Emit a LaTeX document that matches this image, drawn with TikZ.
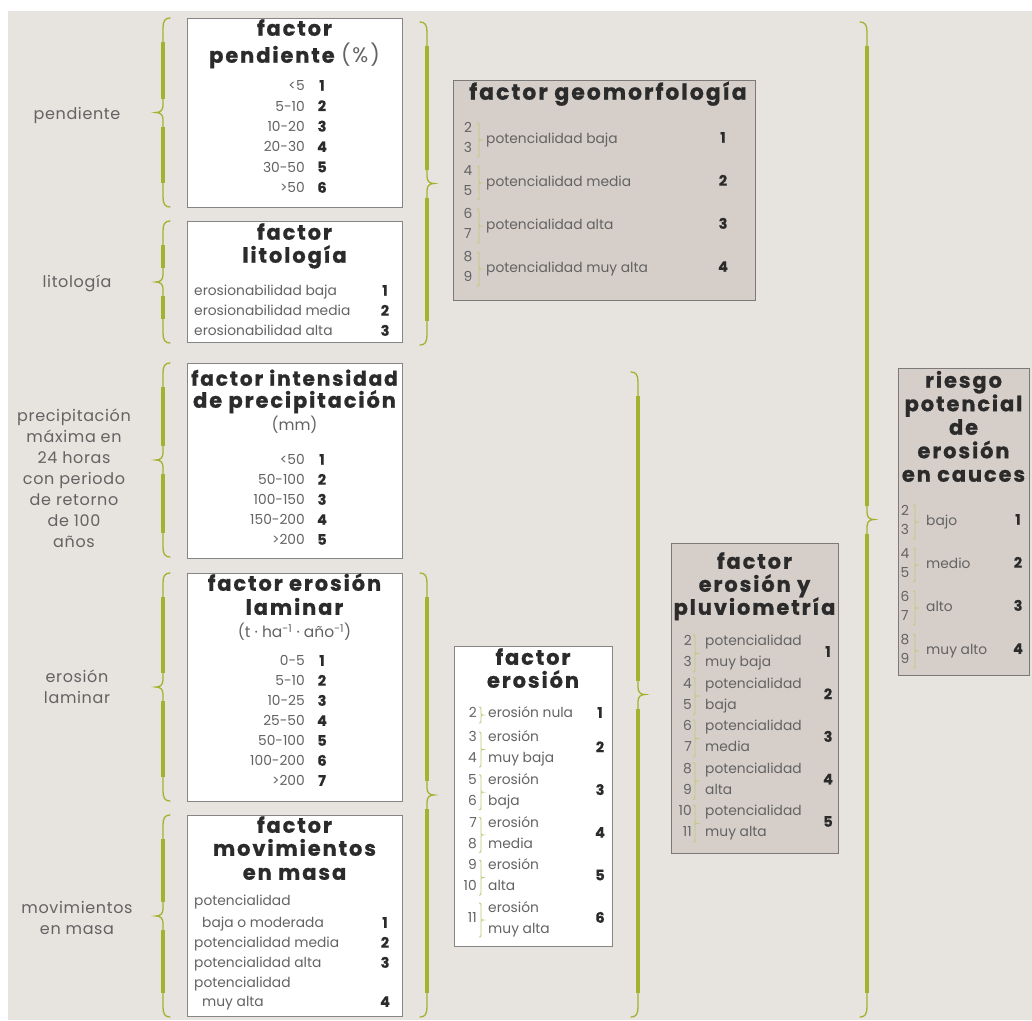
\documentclass[tikz,border=0pt]{standalone}
\usepackage{fontspec}
\setmainfont{Poppins}
\newfontfamily\ttlfont[LetterSpace=9,BoldFeatures={FakeBold=0.8}]{Poppins}
\newfontfamily\numfont[BoldFeatures={FakeBold=0.6}]{Poppins}
\newfontfamily\lblfont[LetterSpace=4]{Poppins}
\definecolor{bg}{HTML}{E7E3DF}
\definecolor{bodygray}{HTML}{636363}
\definecolor{titlegray}{HTML}{2B2B2B}
\definecolor{wborder}{HTML}{858585}
\definecolor{gborder}{HTML}{7C7A78}
\definecolor{gfill}{HTML}{D5CEC9}
\definecolor{brcol}{HTML}{A3B22F}
\definecolor{sbrcol}{HTML}{C3C97A}
\newcommand\lbrc[3]{%
 \pgfmathsetmacro\brX{#1}\pgfmathsetmacro\brT{#2}\pgfmathsetmacro\brB{#3}%
 \pgfmathsetmacro\brM{(#2+#3)/2}%
 \draw[brc] (\brX+7,\brT) .. controls (\brX+2,\brT) and (\brX,\brT+3) .. (\brX,\brT+10) -- (\brX,\brM-7) .. controls (\brX,\brM-2) and (\brX-3,\brM) .. (\brX-7,\brM) .. controls (\brX-3,\brM) and (\brX,\brM+2) .. (\brX,\brM+7) -- (\brX,\brB-10) .. controls (\brX,\brB-3) and (\brX+2,\brB) .. (\brX+7,\brB);
 \draw[brct] (\brX,\brT+24) -- (\brX,\brM-14) (\brX,\brM+14) -- (\brX,\brB-24);
}
\newcommand\rbrc[3]{%
 \pgfmathsetmacro\brX{#1}\pgfmathsetmacro\brT{#2}\pgfmathsetmacro\brB{#3}%
 \pgfmathsetmacro\brM{(#2+#3)/2}%
 \draw[brc] (\brX-7,\brT) .. controls (\brX-2,\brT) and (\brX,\brT+3) .. (\brX,\brT+10) -- (\brX,\brM-7) .. controls (\brX,\brM-2) and (\brX+3,\brM) .. (\brX+7,\brM) .. controls (\brX+3,\brM) and (\brX,\brM+2) .. (\brX,\brM+7) -- (\brX,\brB-10) .. controls (\brX,\brB-3) and (\brX-2,\brB) .. (\brX-7,\brB);
 \draw[brct] (\brX,\brT+24) -- (\brX,\brM-14) (\brX,\brM+14) -- (\brX,\brB-24);
}
\newcommand\smbr[3]{%
 \pgfmathsetmacro\brX{#1}\pgfmathsetmacro\brT{#2}\pgfmathsetmacro\brB{#3}%
 \pgfmathsetmacro\brM{(#2+#3)/2}%
 \draw[sbr] (\brX,\brT) .. controls (\brX+2,\brT) .. (\brX+2,\brT+3) -- (\brX+2,\brM-2) .. controls (\brX+2,\brM) .. (\brX+4,\brM) .. controls (\brX+2,\brM) .. (\brX+2,\brM+2) -- (\brX+2,\brB-3) .. controls (\brX+2,\brB) .. (\brX,\brB);
}
\begin{document}
\begin{tikzpicture}[x=1pt,y=-1pt,
 brc/.style={draw=brcol,line width=1.3pt,line cap=round},
 brct/.style={draw=brcol,line width=3.6pt},
 sbr/.style={draw=sbrcol,line width=0.9pt},
 wbox/.style={draw=wborder,line width=1.4pt,fill=white,inner sep=0pt,anchor=north west},
 gbox/.style={draw=gborder,line width=1.4pt,fill=gfill,inner sep=0pt,anchor=north west},
 ttl/.style={font=\ttlfont\fontsize{21}{23}\selectfont\bfseries,text=titlegray,inner sep=0pt,anchor=mid},
 body/.style={font=\fontsize{13.8}{16}\selectfont,text=bodygray,inner sep=0pt},
 num/.style={font=\numfont\fontsize{14.5}{16}\selectfont\bfseries,text=titlegray,inner sep=0pt,anchor=mid},
 unit/.style={font=\fontsize{15.5}{18}\selectfont,text=bodygray,inner sep=0pt,anchor=mid},
 lbl/.style={font=\lblfont\fontsize{16}{21}\selectfont,text=bodygray,inner sep=0pt,align=center},
]
\useasboundingbox (0,0) rectangle (1032,1020);
\fill[bg] (8,11) rectangle (1032,1020);

% ---------- boxes ----------
\node[wbox,minimum width=215pt,minimum height=189pt] (pend) at (187,18) {};
\node[wbox,minimum width=215pt,minimum height=121pt] (lito) at (187,221) {};
\node[wbox,minimum width=215pt,minimum height=195pt] (inten) at (187,363) {};
\node[wbox,minimum width=215pt,minimum height=228pt] (lamin) at (187,573) {};
\node[wbox,minimum width=215pt,minimum height=201pt] (movim) at (187,815) {};
\node[gbox,minimum width=302pt,minimum height=220pt] (geomo) at (453,80) {};
\node[wbox,minimum width=158pt,minimum height=300pt] (eros) at (454,646) {};
\node[gbox,minimum width=167pt,minimum height=310pt] (pluv) at (671,543) {};
\node[gbox,minimum width=131pt,minimum height=307pt] (riesgo) at (898,368) {};

% ---------- braces ----------
\lbrc{163}{18}{207}
\lbrc{163}{221}{343}
\lbrc{163}{363}{557}
\lbrc{163}{573}{801}
\lbrc{163}{815}{1017}
\rbrc{427}{22}{345}
\rbrc{427}{573}{1017}
\rbrc{638}{372}{1017}
\rbrc{867}{22}{1017}

% ---------- left labels ----------
\node[lbl] (lpend) at (77,115) {pendiente};
\node[lbl] (llito) at (77,283) {litología};
\node[lbl] (lprec) at (74,478) {precipitación\\máxima en\\24 horas\\con periodo\\de retorno\\de 100\\años};
\node[lbl] (llam) at (77,687) {erosión\\laminar};
\node[lbl] (lmov) at (77,918) {movimientos\\en masa};

% ---------- factor pendiente ----------
\node[ttl] (tp1) at (294.5,33) {factor};
\node[ttl] (tp2) at (294.5,60) {pendiente {\mdseries\color{bodygray}(\%)}};
\foreach \r/\n [count=\i] in {<5/1,5-10/2,10-20/3,20-30/4,30-50/5,>50/6}{
 \node[body,anchor=mid east] (pr\i) at (305,{88+20.4*(\i-1)}) {\r};
 \node[num] (pn\i) at (322,{88+20.4*(\i-1)}) {\n};
}

% ---------- factor litologia ----------
\node[ttl] (tl1) at (294.5,237) {factor};
\node[ttl] (tl2) at (294.5,260) {litología};
\foreach \r/\n [count=\i] in {erosionabilidad baja/1,erosionabilidad media/2,erosionabilidad alta/3}{
 \node[body,anchor=mid west] (lr\i) at (194,{293+20*(\i-1)}) {\r};
 \node[num] (ln\i) at (385,{293+20*(\i-1)}) {\n};
}

% ---------- factor intensidad ----------
\node[ttl,font=\ttlfont\fontsize{20.2}{23}\selectfont\bfseries] (ti1) at (294.5,383) {factor intensidad};
\node[ttl] (ti2) at (294.5,405) {de precipitación};
\node[unit] (ti3) at (294.5,428) {(mm)};
\foreach \r/\n [count=\i] in {<50/1,50-100/2,100-150/3,150-200/4,>200/5}{
 \node[body,anchor=mid east] (ir\i) at (305,{462+20*(\i-1)}) {\r};
 \node[num] (in\i) at (322,{462+20*(\i-1)}) {\n};
}

% ---------- factor erosion laminar ----------
\node[ttl] (te1) at (294.5,588) {factor erosión};
\node[ttl] (te2) at (294.5,612) {laminar};
\node[unit] (te3) at (294.5,635) {(t · ha\textsuperscript{-1} · año\textsuperscript{-1})};
\foreach \r/\n [count=\i] in {0-5/1,5-10/2,10-25/3,25-50/4,50-100/5,100-200/6,>200/7}{
 \node[body,anchor=mid east] (er\i) at (305,{663+20*(\i-1)}) {\r};
 \node[num] (en\i) at (322,{663+20*(\i-1)}) {\n};
}

% ---------- factor movimientos ----------
\node[ttl] (tm1) at (294.5,830) {factor};
\node[ttl] (tm2) at (294.5,853) {movimientos};
\node[ttl] (tm3) at (294.5,877) {en masa};
\node[body,anchor=mid west] (mr1) at (194,903) {potencialidad};
\node[body,anchor=mid west] (mr2) at (202,925) {baja o moderada};
\node[body,anchor=mid west] (mr3) at (194,945) {potencialidad media};
\node[body,anchor=mid west] (mr4) at (194,965) {potencialidad alta};
\node[body,anchor=mid west] (mr5) at (194,985) {potencialidad};
\node[body,anchor=mid west] (mr6) at (202,1004) {muy alta};
\node[num] (mn1) at (385,925) {1};
\node[num] (mn2) at (385,945) {2};
\node[num] (mn3) at (385,965) {3};
\node[num] (mn4) at (385,1004) {4};

% ---------- factor geomorfologia ----------
\node[ttl,font=\ttlfont\fontsize{22}{24}\selectfont\bfseries] (tg1) at (608,97) {factor geomorfología};
\foreach \a/\b/\t/\n [count=\i] in {2/3/potencialidad baja/1,4/5/potencialidad media/2,6/7/potencialidad alta/3,8/9/potencialidad muy alta/4}{
 \pgfmathsetmacro\cy{140+43*(\i-1)}
 \node[body,anchor=mid] (ga\i) at (468,\cy-10) {\a};
 \node[body,anchor=mid] (gb\i) at (468,\cy+10) {\b};
 \smbr{477}{\cy-17}{\cy+17}
 \node[body,anchor=mid west] (gt\i) at (486,\cy+1) {\t};
 \node[num] (gn\i) at (723,\cy) {\n};
}

% ---------- factor erosion ----------
\node[ttl] (tr1) at (533,662) {factor};
\node[ttl] (tr2) at (533,685) {erosión};
\node[body,anchor=mid east] (ra0) at (477,715) {2};
\smbr{479}{707}{723}
\node[body,anchor=mid west] (rt0) at (488,715) {erosión nula};
\node[num] (rn0) at (600,715) {1};
\foreach \a/\b/\s/\n [count=\i] in {3/4/muy baja/2,5/6/baja/3,7/8/media/4,9/10/alta/5}{
 \pgfmathsetmacro\ty{739+42.7*(\i-1)}
 \node[body,anchor=mid east] (ra\i) at (477,\ty) {\a};
 \node[body,anchor=mid east] (rb\i) at (477,\ty+21) {\b};
 \smbr{479}{\ty-7}{\ty+28}
 \node[body,anchor=mid west] (rt\i) at (488,\ty) {erosión};
 \node[body,anchor=mid west] (rs\i) at (488,\ty+21) {\s};
 \node[num] (rn\i) at (600,\ty+10.5) {\n};
}
\node[body,anchor=mid east] (ra5) at (477,920) {11};
\smbr{479}{903}{937}
\node[body,anchor=mid west] (rt5) at (488,910) {erosión};
\node[body,anchor=mid west] (rs5) at (488,931) {muy alta};
\node[num] (rn5) at (600,920) {6};

% ---------- factor erosion y pluviometria ----------
\node[ttl] (tv1) at (754.5,566) {factor};
\node[ttl] (tv2) at (754.5,589) {erosión y};
\node[ttl] (tv3) at (754.5,612) {pluviometría};
\foreach \a/\b/\s/\n [count=\i] in {2/3/muy baja/1,4/5/baja/2,6/7/media/3,8/9/alta/4,10/11/muy alta/5}{
 \pgfmathsetmacro\ty{643+42.5*(\i-1)}
 \node[body,anchor=mid east] (va\i) at (692,\ty) {\a};
 \node[body,anchor=mid east] (vb\i) at (692,\ty+21) {\b};
 \smbr{693}{\ty-8}{\ty+29}
 \node[body,anchor=mid west] (vt\i) at (705,\ty) {potencialidad};
 \node[body,anchor=mid west] (vs\i) at (705,\ty+21) {\s};
 \node[num] (vn\i) at (828,\ty+11) {\n};
}

% ---------- riesgo ----------
\node[ttl] (tz1) at (963.5,385) {riesgo};
\node[ttl] (tz2) at (963.5,408.5) {potencial};
\node[ttl] (tz3) at (963.5,432) {de};
\node[ttl] (tz4) at (963.5,455.5) {erosión};
\node[ttl] (tz5) at (963.5,479) {en cauces};
\foreach \a/\b/\t/\n [count=\i] in {2/3/bajo/1,4/5/medio/2,6/7/alto/3,8/9/muy alto/4}{
 \pgfmathsetmacro\cy{522+43*(\i-1)}
 \node[body,anchor=mid] (za\i) at (905,\cy-9.5) {\a};
 \node[body,anchor=mid] (zb\i) at (905,\cy+9.5) {\b};
 \smbr{913}{\cy-17}{\cy+17}
 \node[body,anchor=mid west] (zt\i) at (926,\cy+1) {\t};
 \node[num] (zn\i) at (1018,\cy) {\n};
}
\end{tikzpicture}
\end{document}
